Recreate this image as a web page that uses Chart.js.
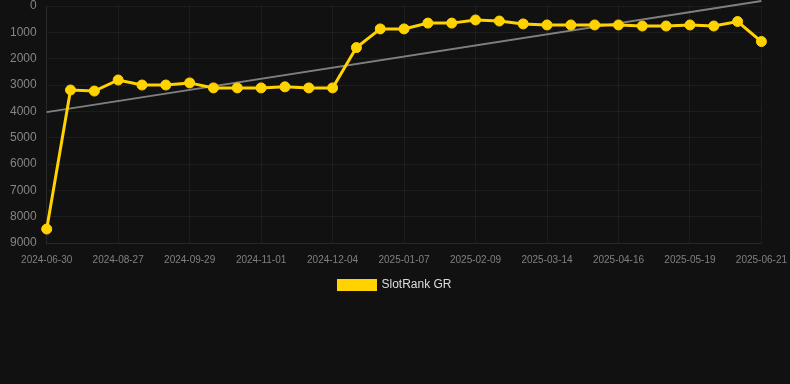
<!DOCTYPE html>
<html>
<head>
<meta charset="utf-8">
<script src="https://cdn.jsdelivr.net/npm/chart.js@4/dist/chart.umd.min.js"></script>
<style>
  html, body { margin: 0; padding: 0; background: #111111; }
  #wrap { position: relative; width: 790px; height: 301px; }
</style>
</head>
<body>
<div id="wrap"><canvas id="rankChart"></canvas></div>
<script>
const dates = [
  '2024-06-30', '2024-08-05', '2024-08-16', '2024-08-27', '2024-09-07', '2024-09-18',
  '2024-09-29', '2024-10-10', '2024-10-21', '2024-11-01', '2024-11-12', '2024-11-23',
  '2024-12-04', '2024-12-15', '2024-12-26', '2025-01-07', '2025-01-18', '2025-01-29',
  '2025-02-09', '2025-02-20', '2025-03-03', '2025-03-14', '2025-03-25', '2025-04-05',
  '2025-04-16', '2025-04-27', '2025-05-08', '2025-05-19', '2025-05-30', '2025-06-10',
  '2025-06-21'
];
const rankValues = [
  8470, 3190, 3230, 2810, 3000, 3000,
  2920, 3110, 3110, 3110, 3070, 3110,
  3110, 1580, 870, 870, 650, 650,
  530, 570, 680, 720, 720, 720,
  720, 760, 760, 720, 760, 590,
  1350
];
const trendEnds = [4030, -190];
const yTicks = [0, 1000, 2000, 3000, 4000, 5000, 6000, 7000, 8000, 9000];

const gold = '#FFD200';
const fontFamily = 'Arial, "Liberation Sans", sans-serif';
const ctx = document.getElementById('rankChart').getContext('2d');

new Chart(ctx, {
  type: 'line',
  data: {
    labels: dates,
    datasets: [{
      label: 'SlotRank GR',
      data: rankValues,
      borderColor: gold,
      backgroundColor: gold,
      borderWidth: 3,
      pointRadius: 5,
      pointBackgroundColor: gold,
      pointBorderColor: gold,
      pointBorderWidth: 1,
      tension: 0
    }, {
      label: 'trend',
      data: [
        { x: dates[0], y: trendEnds[0] },
        { x: dates[dates.length - 1], y: trendEnds[1] }
      ],
      borderColor: 'rgba(140,140,140,0.9)',
      borderWidth: 2,
      pointRadius: 0,
      clip: false
    }]
  },
  options: {
    responsive: true,
    maintainAspectRatio: false,
    animation: false,
    plugins: {
      legend: {
        position: 'bottom',
        labels: {
          color: '#dddddd',
          boxWidth: 37,
          boxHeight: 9,
          font: { family: fontFamily, size: 12 },
          filter: item => item.text !== 'trend'
        }
      },
      tooltip: { enabled: false }
    },
    scales: {
      x: {
        grid: { color: 'rgba(255,255,255,0.05)', tickColor: 'transparent', tickLength: 8 },
        border: { color: 'rgba(255,255,255,0.05)' },
        ticks: {
          color: '#808080',
          padding: 3,
          maxRotation: 0,
          autoSkip: true,
          maxTicksLimit: 11,
          font: { family: fontFamily, size: 10 }
        }
      },
      y: {
        reverse: true,
        min: yTicks[0],
        max: yTicks[yTicks.length - 1],
        afterBuildTicks: axis => { axis.ticks = yTicks.map(v => ({ value: v })); },
        afterFit: axis => { axis.width += 7; },
        grid: { color: 'rgba(255,255,255,0.05)', tickColor: 'transparent', tickLength: 7 },
        border: { color: 'rgba(255,255,255,0.05)' },
        ticks: {
          color: '#858585',
          padding: 3,
          callback: v => String(v),
          font: { family: fontFamily, size: 12, lineHeight: 0.5 }
        }
      }
    }
  }
});
</script>
</body>
</html>
